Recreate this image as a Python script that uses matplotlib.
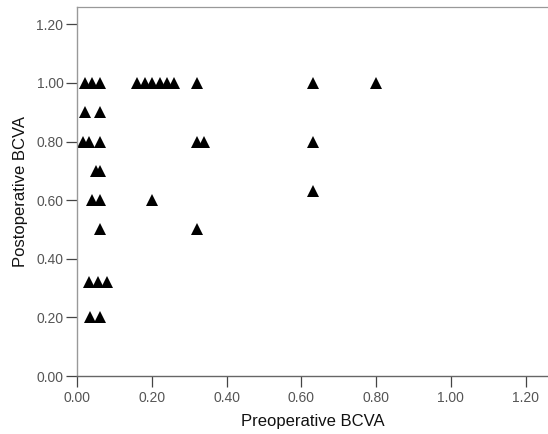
import matplotlib
matplotlib.use("Agg")
import matplotlib.pyplot as plt

plt.rcParams['font.family'] = ['Liberation Sans', 'DejaVu Sans']

# Preoperative / postoperative BCVA pairs
pre_bcva = [0.02, 0.04, 0.06, 0.16, 0.18, 0.20, 0.22, 0.24, 0.26, 0.32, 0.63, 0.80,
            0.02, 0.06,
            0.015, 0.03, 0.06, 0.32, 0.34, 0.63,
            0.05, 0.06,
            0.63,
            0.04, 0.06, 0.20,
            0.06, 0.32,
            0.03, 0.055, 0.08,
            0.035, 0.06]
post_bcva = [1.00, 1.00, 1.00, 1.00, 1.00, 1.00, 1.00, 1.00, 1.00, 1.00, 1.00, 1.00,
             0.90, 0.90,
             0.80, 0.80, 0.80, 0.80, 0.80, 0.80,
             0.70, 0.70,
             0.63,
             0.60, 0.60, 0.60,
             0.50, 0.50,
             0.32, 0.32, 0.32,
             0.20, 0.20]

ticks = [0.0, 0.2, 0.4, 0.6, 0.8, 1.0, 1.2]
tick_labels = ["0.00", "0.20", "0.40", "0.60", "0.80", "1.00", "1.20"]

fig = plt.figure(figsize=(5.48, 4.34), dpi=100)
ax = fig.add_axes([0.1411, 0.1336, 0.859, 0.851])

ax.plot(pre_bcva, post_bcva, linestyle='none', marker='^', markersize=8.2,
        color='black', markeredgewidth=0, clip_on=False)

ax.set_xlim(0, 1.26)
ax.set_ylim(0, 1.26)
ax.set_xticks(ticks)
ax.set_xticklabels(tick_labels)
ax.set_yticks(ticks)
ax.set_yticklabels(tick_labels)

ax.tick_params(axis='both', direction='out', length=8, width=0.9, color='#444444',
               labelsize=10, labelcolor='#555555')
ax.tick_params(axis='x', pad=3)
ax.tick_params(axis='y', pad=2)

ax.spines['right'].set_visible(False)
ax.spines['top'].set_color('#999999')
ax.spines['top'].set_linewidth(0.9)
ax.spines['left'].set_color('#999999')
ax.spines['left'].set_linewidth(1.0)
ax.spines['bottom'].set_color('#666666')
ax.spines['bottom'].set_linewidth(1.0)

ax.set_xlabel("Preoperative BCVA", fontsize=12, color='#111111', labelpad=6)
ax.set_ylabel("Postoperative BCVA", fontsize=12, color='#111111', labelpad=6)

fig.savefig("out.png", dpi=100)
